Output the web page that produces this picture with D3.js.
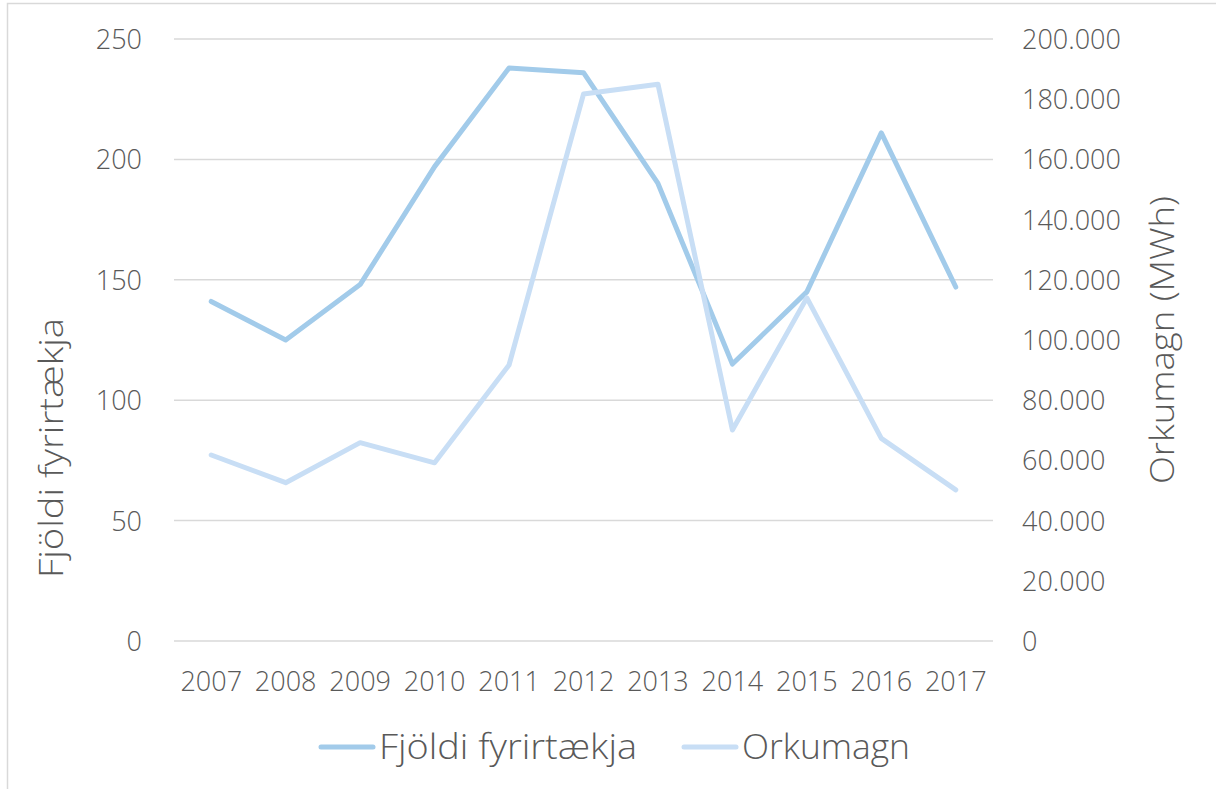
<!DOCTYPE html>
<html>
<head>
<meta charset="utf-8">
<script src="https://cdn.jsdelivr.net/npm/d3@7"></script>
<style>
  body { margin: 0; background: #fff; }
  svg text { font-family: "Open Sans", "Noto Sans", sans-serif; font-weight: 300; fill: #595959; }
</style>
</head>
<body>
<div id="chart"></div>
<script>
// data
const years = ["2007", "2008", "2009", "2010", "2011", "2012", "2013", "2014", "2015", "2016", "2017"];
const fjoldi = [141, 125, 148, 197, 238, 236, 190, 115, 145, 211, 147];
const orkumagn = [61800, 52600, 65900, 59200, 91700, 181700, 185000, 70100, 114000, 67300, 50200];
const leftTicks = [0, 50, 100, 150, 200, 250];
const rightTicks = [0, 20000, 40000, 60000, 80000, 100000, 120000, 140000, 160000, 180000, 200000];

const W = 1216, H = 789;
const margin = { top: 39, right: 223, bottom: 148, left: 174 };
const width = W - margin.left - margin.right;
const height = H - margin.top - margin.bottom;

const darkBlue = "#a2cbea";
const lightBlue = "#c8def5";

const svg = d3.select("#chart").append("svg")
  .attr("width", W)
  .attr("height", H);

// chart area border
svg.append("rect")
  .attr("x", 7.5).attr("y", 3.5)
  .attr("width", W + 20).attr("height", H + 20)
  .attr("fill", "none")
  .attr("stroke", "#d9d9d9")
  .attr("stroke-width", 1.5);

const g = svg.append("g")
  .attr("transform", `translate(${margin.left},${margin.top})`);

const x = d3.scaleBand().domain(years).range([0, width]);
const yL = d3.scaleLinear().domain([0, 250]).range([height, 0]);
const yR = d3.scaleLinear().domain([0, 200000]).range([height, 0]);

// gridlines
g.append("g")
  .selectAll("line")
  .data(leftTicks)
  .join("line")
  .attr("x1", 0).attr("x2", width)
  .attr("y1", d => yL(d)).attr("y2", d => yL(d))
  .attr("stroke", "#d9d9d9")
  .attr("stroke-width", 1.5);

const fmtR = d => d === 0 ? "0" : d3.format(",")(d).replace(/,/g, ".");

// left axis
const axL = g.append("g")
  .call(d3.axisLeft(yL).tickValues(leftTicks).tickSize(0).tickPadding(32));
axL.select(".domain").remove();
axL.selectAll("text").attr("font-size", 27).attr("dy", "0.35em");

// right axis
const axR = g.append("g")
  .attr("transform", `translate(${width},0)`)
  .call(d3.axisRight(yR).tickValues(rightTicks).tickFormat(fmtR).tickSize(0).tickPadding(29));
axR.select(".domain").remove();
axR.selectAll("text").attr("font-size", 27).attr("dy", "0.35em");

// bottom axis
const axB = g.append("g")
  .attr("transform", `translate(0,${height})`)
  .call(d3.axisBottom(x).tickSize(0).tickPadding(31));
axB.select(".domain").remove();
axB.selectAll("text").attr("font-size", 27);

// axis titles
svg.append("text")
  .attr("transform", "translate(63,448) rotate(-90)")
  .attr("text-anchor", "middle")
  .attr("font-size", 33)
  .attr("textLength", 260).attr("lengthAdjust", "spacingAndGlyphs")
  .text("Fjöldi fyrirtækja");

svg.append("text")
  .attr("transform", "translate(1174,340) rotate(-90)")
  .attr("text-anchor", "middle")
  .attr("font-size", 33)
  .attr("textLength", 288).attr("lengthAdjust", "spacingAndGlyphs")
  .text("Orkumagn (MWh)");

// lines
const lineL = d3.line()
  .x((d, i) => x(years[i]) + x.bandwidth() / 2)
  .y(d => yL(d));
const lineR = d3.line()
  .x((d, i) => x(years[i]) + x.bandwidth() / 2)
  .y(d => yR(d));

g.append("path")
  .datum(fjoldi)
  .attr("d", lineL)
  .attr("fill", "none")
  .attr("stroke", darkBlue)
  .attr("stroke-width", 5)
  .attr("stroke-linecap", "round")
  .attr("stroke-linejoin", "round");

g.append("path")
  .datum(orkumagn)
  .attr("d", lineR)
  .attr("fill", "none")
  .attr("stroke", lightBlue)
  .attr("stroke-width", 5)
  .attr("stroke-linecap", "round")
  .attr("stroke-linejoin", "round");

// legend
const legend = [
  { name: "Fjöldi fyrirtækja", color: darkBlue, x: 321, len: 258 },
  { name: "Orkumagn", color: lightBlue, x: 684, len: 168 }
];
const lg = svg.append("g").attr("transform", "translate(0,747)");
legend.forEach(l => {
  lg.append("line")
    .attr("x1", l.x).attr("x2", l.x + 52)
    .attr("stroke", l.color)
    .attr("stroke-width", 5)
    .attr("stroke-linecap", "round");
  lg.append("text")
    .attr("x", l.x + 58)
    .attr("dy", "0.35em")
    .attr("font-size", 34)
    .attr("textLength", l.len).attr("lengthAdjust", "spacingAndGlyphs")
    .text(l.name);
});
</script>
</body>
</html>
